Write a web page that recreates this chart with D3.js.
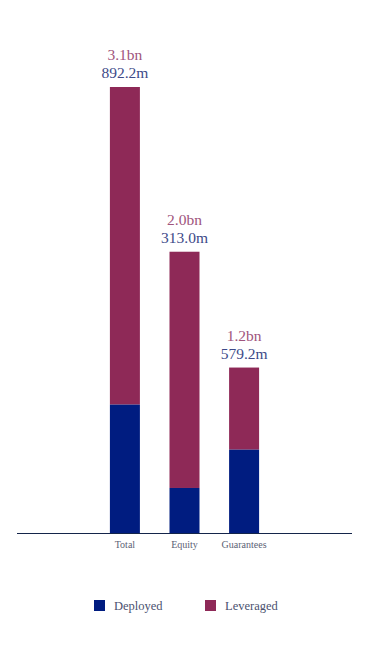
<!DOCTYPE html>
<html>
<head>
<meta charset="utf-8">
<script src="https://cdn.jsdelivr.net/npm/d3@7"></script>
<style>
  html, body { margin: 0; padding: 0; background: #fff; }
  svg { display: block; }
  text { font-family: "Liberation Serif", "DejaVu Serif", serif; }
</style>
</head>
<body>
<script>
// ---- data ----
const categories = ["Total", "Equity", "Guarantees"];
const totalValues = [3.1, 1.955, 1.15];          // bn (full bar height)
const deployedValues = [0.8922, 0.313, 0.5792]; // bn
const totalLabels = ["3.1bn", "2.0bn", "1.2bn"];
const deployedLabels = ["892.2m", "313.0m", "579.2m"];
const seriesNames = ["Deployed", "Leveraged"];
const seriesColors = ["#001c80", "#8e2957"];

// ---- layout ----
const W = 368, H = 659;
const baseY = 533;
const svg = d3.select("body").append("svg").attr("width", W).attr("height", H);

const x = d3.scaleBand().domain(categories).range([110, 259]).paddingInner(0.5).paddingOuter(0);
const y = d3.scaleLinear().domain([0, 3.1]).range([baseY, 87]);

const rows = categories.map((c, i) => ({
  cat: c, total: totalValues[i], deployed: deployedValues[i],
  tl: totalLabels[i], dl: deployedLabels[i]
}));

const bw = 30;
const bx = d => x(d.cat) + x.bandwidth() / 2 - bw / 2;

// leveraged (top segment)
svg.selectAll("rect.lev").data(rows).join("rect")
  .attr("class", "lev")
  .attr("x", bx).attr("width", bw)
  .attr("y", d => y(d.total))
  .attr("height", d => y(d.deployed) - y(d.total))
  .attr("fill", seriesColors[1]);

// deployed (bottom segment)
svg.selectAll("rect.dep").data(rows).join("rect")
  .attr("class", "dep")
  .attr("x", bx).attr("width", bw)
  .attr("y", d => y(d.deployed))
  .attr("height", d => baseY - y(d.deployed))
  .attr("fill", seriesColors[0]);

// value labels
svg.selectAll("text.tl").data(rows).join("text")
  .attr("class", "tl")
  .attr("x", d => x(d.cat) + x.bandwidth() / 2)
  .attr("y", d => y(d.total) - 27)
  .attr("text-anchor", "middle")
  .attr("font-size", 15.5)
  .attr("fill", "#a0557d")
  .text(d => d.tl);

svg.selectAll("text.dl").data(rows).join("text")
  .attr("class", "dl")
  .attr("x", d => x(d.cat) + x.bandwidth() / 2)
  .attr("y", d => y(d.total) - 9)
  .attr("text-anchor", "middle")
  .attr("font-size", 15.5)
  .attr("fill", "#3d4a88")
  .text(d => d.dl);

// axis
svg.append("line")
  .attr("x1", 17).attr("x2", 352)
  .attr("y1", baseY + 0.5).attr("y2", baseY + 0.5)
  .attr("stroke", "#14254a").attr("stroke-width", 1.2);

const axis = svg.append("g")
  .attr("transform", `translate(0,${baseY})`)
  .call(d3.axisBottom(x).tickSize(0).tickPadding(8));
axis.select(".domain").remove();
axis.selectAll("text")
  .attr("font-family", "Liberation Serif, DejaVu Serif, serif")
  .attr("font-size", 10)
  .attr("fill", "#5b6275");

// legend
const legX = [94, 205];
const leg = svg.selectAll("g.leg").data(seriesNames).join("g")
  .attr("class", "leg")
  .attr("transform", (d, i) => `translate(${legX[i]},600)`);
leg.append("rect").attr("width", 11).attr("height", 11)
  .attr("fill", (d, i) => seriesColors[i]);
leg.append("text").attr("x", 20).attr("y", 9.5)
  .attr("font-size", 12.5).attr("fill", "#4b5270")
  .text(d => d);
</script>
</body>
</html>
